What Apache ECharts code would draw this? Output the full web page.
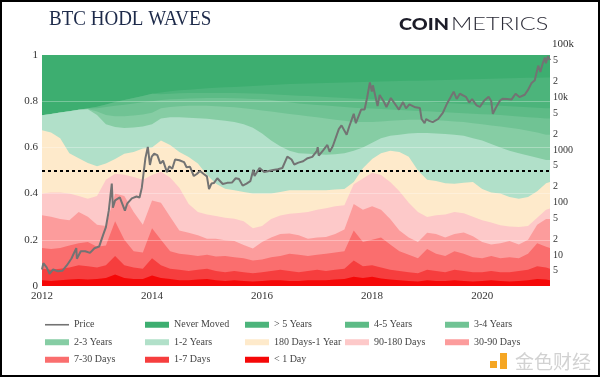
<!DOCTYPE html>
<html>
<head>
<meta charset="utf-8">
<script src="https://cdn.jsdelivr.net/npm/echarts@6/dist/echarts.min.js"></script>
<style>
html,body{margin:0;padding:0;background:#fff;}
#chart{width:600px;height:377px;}
</style>
</head>
<body>
<div id="chart"></div>
<script>
// sample dates of the wave bands (every 2 months)
var bandDates = ['2012-01-01','2012-03-01','2012-05-01','2012-07-01','2012-09-01','2012-11-01',
  '2013-01-01','2013-03-01','2013-05-01','2013-07-01','2013-09-01','2013-11-01',
  '2014-01-01','2014-03-01','2014-05-01','2014-07-01','2014-09-01','2014-11-01',
  '2015-01-01','2015-03-01','2015-05-01','2015-07-01','2015-09-01','2015-11-01',
  '2016-01-01','2016-03-01','2016-05-01','2016-07-01','2016-09-01','2016-11-01',
  '2017-01-01','2017-03-01','2017-05-01','2017-07-01','2017-09-01','2017-11-01',
  '2018-01-01','2018-03-01','2018-05-01','2018-07-01','2018-09-01','2018-11-01',
  '2019-01-01','2019-03-01','2019-05-01','2019-07-01','2019-09-01','2019-11-01',
  '2020-01-01','2020-03-01','2020-05-01','2020-07-01','2020-09-01','2020-11-01',
  '2021-01-01','2021-03-01','2021-03-27'];

// cumulative share of supply (top edge of each band)
var movedShare = [.739,.745,.751,.757,.763,.769,.776,.786,.796,.805,.814,.823,.832,.838,.843,.847,.85,.853,.856,.858,.86,.862,.864,.866,.868,.87,.872,.874,.876,.877,.878,.879,.88,.881,.882,.883,.884,.885,.886,.887,.888,.889,.89,.891,.892,.893,.894,.895,.896,.897,.898,.899,.9,.901,.902,.903,.903];
var under5y = [.739,.745,.751,.757,.763,.769,.776,.786,.796,.805,.814,.823,.832,.83,.832,.834,.835,.836,.836,.836,.836,.835,.834,.833,.832,.83,.828,.826,.824,.822,.82,.818,.816,.814,.812,.81,.808,.806,.804,.802,.8,.798,.796,.794,.792,.79,.788,.786,.784,.782,.78,.778,.776,.774,.772,.77,.77];
var under4y = [.739,.745,.751,.757,.763,.768,.77,.775,.78,.785,.79,.795,.8,.805,.808,.81,.812,.813,.814,.814,.814,.813,.812,.81,.808,.805,.8,.795,.79,.787,.784,.781,.778,.775,.772,.77,.768,.766,.764,.762,.76,.758,.756,.754,.752,.75,.748,.746,.744,.742,.74,.737,.734,.731,.728,.725,.725];
var under3y = [.739,.745,.751,.757,.763,.766,.755,.74,.735,.735,.738,.742,.75,.77,.775,.778,.78,.78,.78,.778,.776,.774,.77,.765,.76,.755,.75,.745,.74,.735,.73,.725,.72,.715,.71,.71,.71,.712,.715,.718,.72,.72,.72,.718,.715,.712,.71,.705,.7,.695,.69,.685,.68,.672,.665,.655,.655];
var under2y = [.739,.745,.751,.757,.763,.765,.74,.7,.688,.684,.686,.69,.7,.725,.73,.73,.728,.726,.724,.72,.715,.71,.7,.685,.66,.63,.605,.585,.575,.572,.57,.568,.57,.575,.585,.6,.62,.64,.65,.655,.66,.662,.662,.66,.658,.655,.65,.64,.63,.615,.6,.585,.575,.565,.555,.545,.545];
var under1y = [.674,.665,.64,.575,.553,.532,.518,.53,.55,.572,.58,.595,.6,.63,.61,.58,.558,.53,.48,.443,.421,.414,.407,.4,.4,.4,.407,.414,.414,.414,.414,.415,.418,.42,.45,.51,.55,.575,.585,.58,.56,.5,.46,.455,.445,.443,.447,.45,.42,.405,.4,.385,.378,.385,.41,.445,.45];
var under180d = [.4,.405,.405,.4,.39,.378,.39,.46,.486,.482,.472,.46,.48,.495,.47,.425,.355,.32,.31,.303,.295,.291,.28,.25,.26,.29,.305,.313,.316,.32,.33,.337,.345,.35,.44,.465,.49,.48,.45,.41,.36,.32,.299,.306,.31,.32,.315,.3,.285,.275,.263,.258,.255,.26,.295,.33,.335];
var under90d = [.306,.3,.29,.285,.32,.3,.265,.26,.4,.39,.32,.265,.37,.36,.3,.24,.23,.22,.205,.205,.198,.195,.178,.162,.19,.21,.225,.227,.22,.205,.21,.212,.225,.245,.355,.33,.345,.33,.29,.24,.21,.19,.23,.225,.21,.225,.232,.215,.19,.18,.185,.195,.18,.2,.265,.29,.29];
var under30d = [.165,.16,.165,.175,.185,.19,.17,.175,.28,.2,.15,.145,.25,.2,.15,.14,.135,.13,.135,.128,.13,.125,.12,.11,.115,.125,.13,.14,.135,.13,.135,.14,.145,.15,.24,.19,.2,.21,.18,.15,.135,.12,.16,.14,.13,.15,.14,.125,.12,.13,.12,.125,.12,.14,.185,.17,.165];
var under7d = [.075,.07,.075,.08,.09,.085,.08,.09,.13,.09,.08,.075,.12,.09,.075,.07,.065,.07,.075,.065,.06,.065,.06,.055,.06,.065,.07,.065,.06,.065,.07,.065,.07,.075,.11,.085,.09,.08,.07,.065,.06,.055,.07,.065,.06,.07,.065,.06,.06,.065,.06,.06,.065,.07,.085,.08,.075];
var under1d = [.025,.022,.025,.028,.03,.028,.03,.035,.05,.035,.03,.03,.045,.035,.03,.025,.025,.028,.03,.025,.022,.025,.022,.02,.022,.025,.025,.022,.022,.025,.025,.025,.028,.03,.04,.035,.04,.032,.028,.025,.022,.02,.025,.022,.022,.025,.022,.02,.022,.025,.022,.02,.022,.025,.03,.028,.025];

// BTC price (USD)
var priceDates = ['2012-01-01','2012-01-10','2012-02-01','2012-02-20','2012-03-15','2012-04-15','2012-05-15','2012-06-15','2012-07-15','2012-08-16','2012-08-20','2012-09-15','2012-10-15','2012-11-15','2012-12-15',
  '2013-01-15','2013-02-10','2013-03-01','2013-03-20','2013-04-09','2013-04-16','2013-05-01','2013-06-01','2013-07-05','2013-07-20','2013-08-20','2013-09-20','2013-10-10','2013-10-25','2013-11-18','2013-12-04','2013-12-18','2013-12-30',
  '2014-01-15','2014-02-05','2014-02-25','2014-03-15','2014-04-10','2014-04-25','2014-05-15','2014-06-03','2014-07-01','2014-08-01','2014-08-18','2014-09-10','2014-10-05','2014-10-25','2014-11-15','2014-12-10','2014-12-31',
  '2015-01-14','2015-01-30','2015-02-15','2015-03-10','2015-04-15','2015-05-15','2015-06-15','2015-07-10','2015-08-01','2015-08-25','2015-09-20','2015-10-15','2015-11-04','2015-11-12','2015-12-15',
  '2016-01-15','2016-02-15','2016-03-15','2016-04-15','2016-05-15','2016-06-17','2016-07-15','2016-08-02','2016-08-30','2016-09-30','2016-10-30','2016-11-30','2016-12-31',
  '2017-01-05','2017-01-12','2017-02-10','2017-03-10','2017-03-25','2017-04-15','2017-05-25','2017-06-12','2017-07-16','2017-08-01','2017-09-01','2017-09-15','2017-10-20','2017-11-12','2017-11-29','2017-12-17','2017-12-30',
  '2018-01-06','2018-02-06','2018-02-20','2018-03-20','2018-04-06','2018-05-05','2018-06-28','2018-07-25','2018-08-14','2018-09-05','2018-10-15','2018-11-14','2018-11-25','2018-12-15','2018-12-25',
  '2019-01-15','2019-02-07','2019-03-15','2019-04-15','2019-05-15','2019-06-26','2019-07-16','2019-08-06','2019-09-15','2019-10-07','2019-10-26','2019-11-25','2019-12-17',
  '2020-01-15','2020-02-13','2020-03-01','2020-03-12','2020-04-01','2020-04-29','2020-05-15','2020-06-15','2020-07-15','2020-08-10','2020-09-05','2020-10-10','2020-10-31','2020-11-25','2020-12-16',
  '2021-01-08','2021-01-22','2021-02-08','2021-02-21','2021-02-28','2021-03-13','2021-03-25','2021-03-27'];
var priceValues = [5.3,7.0,5.8,4.4,5.3,4.9,5.0,6.4,8.6,13.5,8.5,11.8,11.8,11,13.5,
  14.5,24,34,70,230,80,110,125,70,95,120,130,125,190,700,1150,520,750,
  850,800,550,630,380,490,440,660,640,590,470,480,320,350,400,350,315,
  180,230,235,290,225,237,240,290,280,210,230,255,420,320,455,
  380,400,415,430,455,750,660,530,575,610,700,740,960,
  1130,780,990,1250,930,1180,2500,2950,1950,2750,4900,3250,5900,5900,10000,19300,13000,
  17100,6900,11200,8300,6600,9800,5900,8200,6200,7400,6500,6300,3900,3250,3900,
  3600,3400,3900,5100,7900,12900,9400,11800,10300,8000,9300,7100,6650,
  8800,10300,8600,4900,6400,8800,9500,9400,9200,11800,10200,11300,13800,19000,21300,
  40500,30800,46000,57500,45100,61000,52300,55000];

var priceLabels = [5,10,20,50,100,200,500,1000,2000,5000,10000,20000,50000];

var bandNames = ['Never Moved','> 5 Years','4-5 Years','3-4 Years','2-3 Years','1-2 Years','180 Days-1 Year','90-180 Days','30-90 Days','7-30 Days','1-7 Days','< 1 Day'];
var bandColors = ['#3dae70','#4cb47b','#5dbb86','#70c394','#86cda4','#b1e0c9','#feeacb','#fdc9c9','#fc9c9c','#fa6e6e','#f63e3e','#f50808'];

function toYear(s){
  var p = s.split('-'), y = +p[0];
  var t0 = Date.UTC(y,0,1), t1 = Date.UTC(y+1,0,1);
  return y + (Date.UTC(y, +p[1]-1, +p[2]) - t0) / (t1 - t0);
}
var bandX = bandDates.map(toYear);
var xEnd = bandX[bandX.length-1];
function pairs(vals){ return vals.map(function(v,i){ return [bandX[i], v]; }); }

var bandTops = [bandDates.map(function(){ return 1; }), movedShare, under5y, under4y, under3y, under2y,
  under1y, under180d, under90d, under30d, under7d, under1d];

var serif = '"Liberation Serif", "DejaVu Serif", serif';
var series = [];
series.push({
  name:'Price', type:'line', xAxisIndex:0, yAxisIndex:1, z:5,
  data: priceDates.map(function(d,i){ return [toYear(d), priceValues[i]]; }),
  symbol:'none', lineStyle:{color:'#737373', width:2}, itemStyle:{color:'#737373'}
});
bandNames.forEach(function(n,i){
  var s = {
    name:n, type:'line', xAxisIndex:0, yAxisIndex:0, z:2,
    data: pairs(bandTops[i]), symbol:'none', showSymbol:false,
    lineStyle:{width:0}, itemStyle:{color:bandColors[i]},
    areaStyle:{color:bandColors[i], opacity:1}
  };
  if (i === bandNames.length-1) {
    s.markLine = {
      silent:true, symbol:'none', label:{show:false}, animation:false,
      data:[
        {yAxis:0.2, lineStyle:{color:'rgba(255,255,255,0.3)', type:'solid', width:1}},
        {yAxis:0.4, lineStyle:{color:'rgba(255,255,255,0.3)', type:'solid', width:1}},
        {yAxis:0.6, lineStyle:{color:'rgba(255,255,255,0.3)', type:'solid', width:1}},
        {yAxis:0.8, lineStyle:{color:'rgba(255,255,255,0.3)', type:'solid', width:1}},
        {yAxis:0.5, lineStyle:{color:'#000', type:[3,3], width:2}}
      ]
    };
  }
  series.push(s);
});

// thin line icon for the price entry (bounding box kept at 24x6)
var lineIcon = 'path://M0,0M24,6M0,2.2L24,2.2L24,3.8L0,3.8Z';
var legendData = [{name:'Price', icon:lineIcon}].concat(bandNames.map(function(n){ return {name:n, icon:'rect'}; }));

var option = {
  animation:false,
  grid:{left:42, right:50, top:55, bottom:91},
  legend:{
    data:legendData, left:45, top:316, width:510, itemGap:0, padding:0,
    itemWidth:24, itemHeight:6,
    textStyle:{fontFamily:serif, fontSize:10, color:'#444', width:71, lineHeight:17.5}
  },
  xAxis:[{
    type:'value', min:2012, max:xEnd, interval:2,
    axisLine:{show:false}, axisTick:{show:false}, splitLine:{show:false},
    axisLabel:{fontFamily:serif, fontSize:11, color:'#333', margin:5, showMaxLabel:false,
      formatter:function(v){ return v % 2 === 0 ? String(v) : ''; }}
  }],
  yAxis:[{
    type:'value', min:0, max:1, interval:0.2,
    axisLine:{show:false}, axisTick:{show:false}, splitLine:{show:false},
    axisLabel:{fontFamily:serif, fontSize:11, color:'#333', margin:4}
  },{
    type:'log', logBase:10, min:2.57, max:64600, show:false
  },{
    type:'value', position:'right', min:Math.log10(2.57), max:Math.log10(64600),
    axisLine:{show:false}, axisTick:{show:false}, splitLine:{show:false},
    name:'100k', nameLocation:'end', nameGap:5,
    nameTextStyle:{fontFamily:serif, fontSize:11, color:'#333', align:'left', padding:[0,0,0,2]},
    axisLabel:{
      customValues: priceLabels.map(Math.log10),
      fontFamily:serif, fontSize:10, color:'#333', margin:3, align:'left',
      formatter:function(v){
        var r = Math.round(Math.pow(10, v)), s = String(r);
        if (s[0] !== '1') return s[0];
        return r >= 10000 ? (r/1000) + 'k' : s;
      }
    }
  }],
  series:series,
  graphic:[
    {type:'text', x:49, y:10, scaleX:0.95, silent:true,
      style:{text:'BTC HODL WAVES', fontFamily:serif, fontSize:20, fill:'#1d2a4a', textVerticalAlign:'top'}},
    {type:'text', x:399, y:16, scaleX:1.16, silent:true,
      style:{text:'COIN', fontFamily:'Lato, "Open Sans", sans-serif', fontWeight:900, fontSize:17, fill:'#1c1c28', textVerticalAlign:'top'}},
    {type:'text', x:451, y:16, scaleX:1.38, silent:true,
      style:{text:'METRICS', fontFamily:'Lato, "Open Sans", sans-serif', fontWeight:300, fontSize:17, fill:'#2a2a36', textVerticalAlign:'top'}},
    {type:'rect', silent:true, shape:{x:490, y:361, width:7, height:7}, style:{fill:'#f5a623'}},
    {type:'rect', silent:true, shape:{x:500, y:353, width:7, height:16}, style:{fill:'#f5a623'}},
    {type:'text', x:515, y:352, silent:true,
      style:{text:'金色财经', fontFamily:'"Noto Sans CJK SC", sans-serif', fontSize:19, fill:'#d2d2d2', textVerticalAlign:'top'}},
    {type:'rect', silent:true, shape:{x:1, y:1, width:598, height:375}, style:{fill:'none', stroke:'#000', lineWidth:2}}
  ]
};

var myChart = echarts.init(document.getElementById('chart'));
myChart.setOption(option);
window.addEventListener('resize', function(){ myChart.resize(); });
</script>
</body>
</html>
